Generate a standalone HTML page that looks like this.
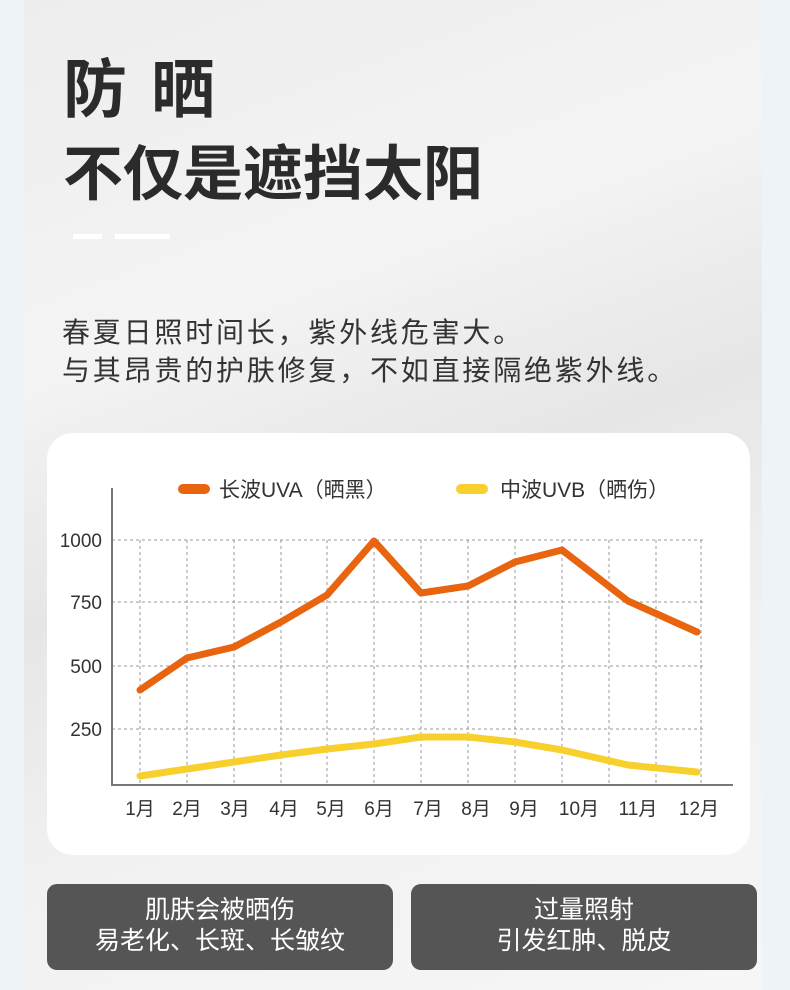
<!DOCTYPE html>
<html><head><meta charset="utf-8"><style>
body{margin:0;width:790px;height:990px;overflow:hidden;background:#eef3f7;font-family:"Liberation Sans","Noto Sans CJK SC",sans-serif;position:relative}
.main{position:absolute;left:24px;top:0;width:738px;height:990px;background:linear-gradient(160deg,#ededed 0%,#f4f4f4 30%,#e6e6e6 50%,#f1f1f1 70%,#f6f6f6 100%)}
.t{position:absolute;color:#2b2b2b;font-weight:bold;white-space:nowrap}
.box{position:absolute;top:884px;height:86px;width:346px;background:#555;border-radius:10px;color:#fff;font-size:25px;text-align:center;line-height:31px;padding-top:11px;box-sizing:border-box}
</style></head><body>
<div class="main"></div>
<div class="t" style="left:63px;top:39px;font-size:64px">防<span style="margin-left:24px">晒</span></div>
<div class="t" style="left:63px;top:126px;font-size:60px">不仅是遮挡太阳</div>
<div style="position:absolute;left:73px;top:234px;width:29px;height:5px;background:#fff"></div>
<div style="position:absolute;left:115px;top:234px;width:55px;height:5px;background:#fff"></div>
<div style="position:absolute;left:62px;top:314px;font-size:28px;color:#333;line-height:38px;white-space:nowrap;letter-spacing:2.8px">春夏日照时间长，紫外线危害大。<br>与其昂贵的护肤修复，不如直接隔绝紫外线。</div>
<div style="position:absolute;left:47px;top:433px;width:703px;height:422px;background:#fff;border-radius:26px"></div>
<svg style="position:absolute;left:0;top:0" width="790" height="990">
<g stroke="#999" stroke-width="1" stroke-dasharray="3,3" fill="none">
<line x1="112" y1="540" x2="703" y2="540"/><line x1="112" y1="602" x2="703" y2="602"/><line x1="112" y1="666" x2="703" y2="666"/><line x1="112" y1="729" x2="703" y2="729"/>
<line x1="140" y1="540" x2="140" y2="785"/><line x1="187" y1="540" x2="187" y2="785"/><line x1="234" y1="540" x2="234" y2="785"/><line x1="281" y1="540" x2="281" y2="785"/><line x1="327" y1="540" x2="327" y2="785"/><line x1="374" y1="540" x2="374" y2="785"/><line x1="421" y1="540" x2="421" y2="785"/><line x1="468" y1="540" x2="468" y2="785"/><line x1="515" y1="540" x2="515" y2="785"/><line x1="562" y1="540" x2="562" y2="785"/><line x1="609" y1="540" x2="609" y2="785"/><line x1="656" y1="540" x2="656" y2="785"/><line x1="701" y1="540" x2="701" y2="785"/>
</g>
<line x1="112" y1="488" x2="112" y2="786" stroke="#777" stroke-width="2"/>
<line x1="111" y1="785" x2="733" y2="785" stroke="#777" stroke-width="2"/>
<polyline fill="none" stroke="#e8640e" stroke-width="7" stroke-linejoin="round" stroke-linecap="round" points="140,690 187,658 234,647 281,622 327,595 374,541 421,593 468,586 515,562 562,550 628,601 697,632"/>
<polyline fill="none" stroke="#f8d02e" stroke-width="7" stroke-linejoin="round" stroke-linecap="round" points="140,776 187,769 234,762 281,755 327,749 374,744 421,737 468,737 515,742 562,750 628,765 697,772"/>
<line x1="183" y1="489" x2="205" y2="489" stroke="#e8640e" stroke-width="10" stroke-linecap="round"/>
<line x1="461" y1="489" x2="483" y2="489" stroke="#f8d02e" stroke-width="10" stroke-linecap="round"/>
<g font-family="Liberation Sans,Noto Sans CJK SC,sans-serif" font-size="21" fill="#333">
<text x="219" y="497">长波UVA（晒黑）</text><text x="500" y="497">中波UVB（晒伤）</text>
</g>
<g font-family="Liberation Sans,Noto Sans CJK SC,sans-serif" font-size="19" fill="#333" text-anchor="end">
<text x="102" y="547">1000</text><text x="102" y="609">750</text><text x="102" y="673">500</text><text x="102" y="736">250</text>
</g>
<g font-family="Liberation Sans,Noto Sans CJK SC,sans-serif" font-size="19" fill="#333" text-anchor="middle">
<text x="140" y="815">1月</text><text x="187" y="815">2月</text><text x="235" y="815">3月</text><text x="284" y="815">4月</text><text x="331" y="815">5月</text><text x="379" y="815">6月</text><text x="428" y="815">7月</text><text x="476" y="815">8月</text><text x="524" y="815">9月</text><text x="579" y="815">10月</text><text x="638" y="815">11月</text><text x="699" y="815">12月</text>
</g>
</svg>
<div class="box" style="left:47px">肌肤会被晒伤<br>易老化、长斑、长皱纹</div>
<div class="box" style="left:411px">过量照射<br>引发红肿、脱皮</div>
</body></html>
